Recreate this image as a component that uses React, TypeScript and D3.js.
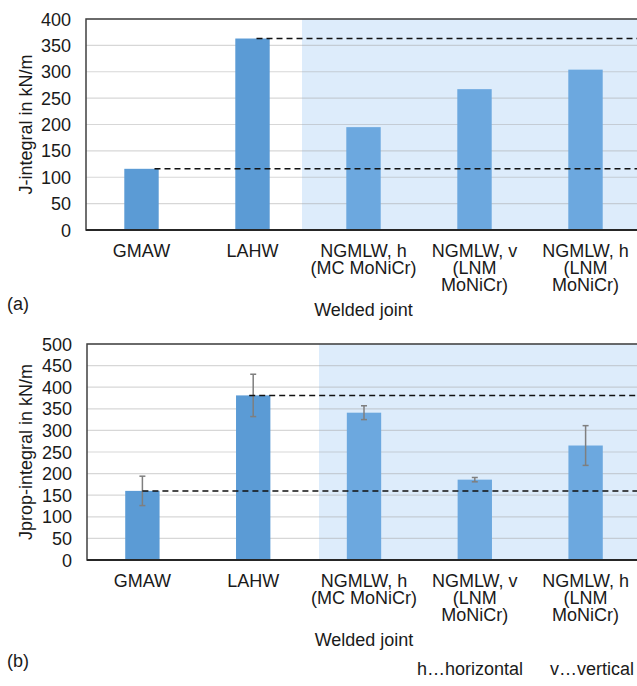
import React from "react";
import * as d3 from "d3";

// categories, as label lines
const categories = [
  ["GMAW"],
  ["LAHW"],
  ["NGMLW, h", "(MC MoNiCr)"],
  ["NGMLW, v", "(LNM", "MoNiCr)"],
  ["NGMLW, h", "(LNM", "MoNiCr)"],
];

// panel (a): J-integral
const jValues = [116, 363, 195, 267, 304];
const jTicks = [0, 50, 100, 150, 200, 250, 300, 350, 400];

// panel (b): Jprop-integral with error bars
const jpropValues = [160, 381, 341, 186, 265];
const jpropErrors = [34, 49, 16, 5, 46];
const jpropTicks = [0, 50, 100, 150, 200, 250, 300, 350, 400, 450, 500];

const FONT = "'Liberation Sans', Arial, sans-serif";
const W = 637;
const H = 686;

type PanelProps = {
  values: number[];
  errors?: number[];
  ticks: number[];
  yLabel: string;
  tag: string;
  tagY: number;
  left: number;
  top: number;
  bottom: number;
  shadeX: number;
  dashOffsets: number[];
};

const Panel = ({ values, errors, ticks, yLabel, tag, tagY, left, top, bottom, shadeX, dashOffsets }: PanelProps) => {
  const right = 641;
  const x = d3
    .scaleBand<number>()
    .domain(categories.map((_, i) => i))
    .range([left, right])
    .paddingInner(0.69)
    .paddingOuter(0.345);
  const y = d3
    .scaleLinear()
    .domain([0, ticks[ticks.length - 1]])
    .range([bottom, top]);
  const bw = x.bandwidth();
  const cx = (i: number) => (x(i) as number) + bw / 2;

  return (
    <g>
      {/* shaded region for NGMLW */}
      <rect x={shadeX} y={top} width={right - shadeX} height={bottom - top} fill="#ddecfb" />
      {/* gridlines */}
      {ticks.map((t) => (
        <line key={t} x1={left} x2={right} y1={y(t)} y2={y(t)} stroke="#a6a6a6" strokeOpacity={0.45} strokeWidth={1.2} />
      ))}
      {/* bars */}
      {values.map((v, i) => (
        <rect key={i} x={x(i)} y={y(v)} width={bw} height={bottom - y(v)} fill={i < 2 ? "#5b9bd5" : "#6ca8df"} />
      ))}
      {/* error bars */}
      {errors &&
        errors.map((e, i) => (
          <g key={i} stroke="#7f7f7f" strokeWidth={1.5}>
            <line x1={cx(i)} x2={cx(i)} y1={y(values[i] + e)} y2={y(values[i] - e)} />
            <line x1={cx(i) - 3} x2={cx(i) + 3} y1={y(values[i] + e)} y2={y(values[i] + e)} />
            <line x1={cx(i) - 3} x2={cx(i) + 3} y1={y(values[i] - e)} y2={y(values[i] - e)} />
          </g>
        ))}
      {/* dashed reference lines at GMAW and LAHW */}
      {[0, 1].map((i) => (
        <line
          key={i}
          x1={cx(i) + dashOffsets[i]}
          x2={right}
          y1={y(values[i])}
          y2={y(values[i])}
          stroke="#111"
          strokeWidth={1.5}
          strokeDasharray="6 4"
        />
      ))}
      {/* frame */}
      <rect x={left} y={top} width={right - left} height={bottom - top} fill="none" stroke="#404040" strokeWidth={1.5} />
      <line x1={left} x2={right} y1={bottom} y2={bottom} stroke="#262626" strokeWidth={2} />
      {/* y tick labels */}
      {ticks.map((t) => (
        <text key={t} x={left - 15} y={y(t) + 6.5} textAnchor="end" fontSize={18} fontFamily={FONT} fill="#1a1a1a">
          {t}
        </text>
      ))}
      <text
        transform={`translate(31.5,${(top + bottom) / 2}) rotate(-90)`}
        textAnchor="middle"
        fontSize={18}
        fontFamily={FONT}
        fill="#1a1a1a"
      >
        {yLabel}
      </text>
      {/* category labels */}
      {categories.map((lines, i) => (
        <text key={i} textAnchor="middle" fontSize={18} fontFamily={FONT} fill="#1a1a1a">
          {lines.map((l, k) => (
            <tspan key={k} x={cx(i)} y={bottom + 27 + k * 17}>
              {l}
            </tspan>
          ))}
        </text>
      ))}
      <text x={(left + right) / 2} y={bottom + 86} textAnchor="middle" fontSize={18} fontFamily={FONT} fill="#1a1a1a">
        Welded joint
      </text>
      <text x={7} y={tagY} fontSize={18} fontFamily={FONT} fill="#1a1a1a">
        {tag}
      </text>
    </g>
  );
};

const App = () => {
  return (
    <svg width={W} height={H} style={{ position: "absolute", left: 0, top: 0, background: "#fff" }}>
      <Panel
        values={jValues}
        ticks={jTicks}
        yLabel="J-integral in kN/m"
        tag="(a)"
        tagY={310}
        left={86}
        top={19}
        bottom={230}
        shadeX={302}
        dashOffsets={[13, 4]}
      />
      <Panel
        values={jpropValues}
        errors={jpropErrors}
        ticks={jpropTicks}
        yLabel="Jprop-integral in kN/m"
        tag="(b)"
        tagY={667}
        left={87}
        top={344}
        bottom={560}
        shadeX={319}
        dashOffsets={[0, -4]}
      />
      <text x={417} y={675} fontSize={18} fontFamily={FONT} fill="#1a1a1a">
        h…horizontal
      </text>
      <text x={550} y={675} fontSize={18} fontFamily={FONT} fill="#1a1a1a">
        v…vertical
      </text>
    </svg>
  );
};

export default App;
